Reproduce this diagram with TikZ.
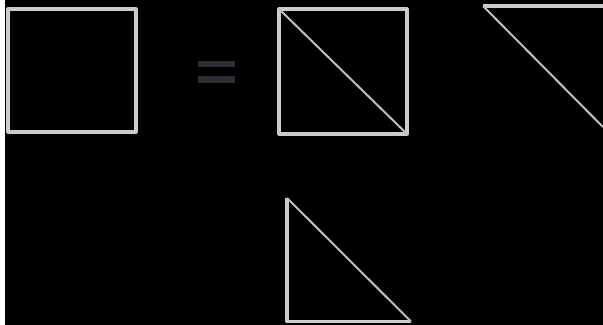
\documentclass[tikz,border=0pt]{standalone}
\definecolor{bargray}{RGB}{44,44,52}
\begin{document}
\begin{tikzpicture}[x=0.5pt,y=-0.5pt,
  side/.style={draw=white!80!black, line width=1.6pt, line join=round},
  cut/.style={draw=white!75!black, line width=1pt},
  bar/.style={fill=bargray, draw=none}]
\fill[black] (0,0) rectangle (603,325);
\fill[white] (0,0) rectangle (5,325);
\useasboundingbox (0,0) rectangle (603,325);
% whole square
\coordinate (a1) at (8,9);
\coordinate (a2) at (136,132);
\draw[side] (a1) rectangle (a2);
% equals sign
\fill[bar] (198,61) rectangle (235,67);
\fill[bar] (198,76) rectangle (235,83);
% square cut along the diagonal
\coordinate (b1) at (279,9);
\coordinate (b2) at (407,134);
\draw[side] (b1) rectangle (b2);
\draw[cut] (b1) -- (b2);
% upper piece, running off the edge
\coordinate (c1) at (483,6);
\coordinate (c2) at (603,6);
\coordinate (c3) at (603,127);
\draw[side] (c1) -- (c2);
\draw[cut] (c1) -- (c3);
% lower piece
\coordinate (d1) at (287,198);
\coordinate (d2) at (287,321.5);
\coordinate (d3) at (411,321.5);
\draw[side] (d1) -- (d2) -- (d3);
\draw[cut] (d1) -- (d3);
\end{tikzpicture}
\end{document}
